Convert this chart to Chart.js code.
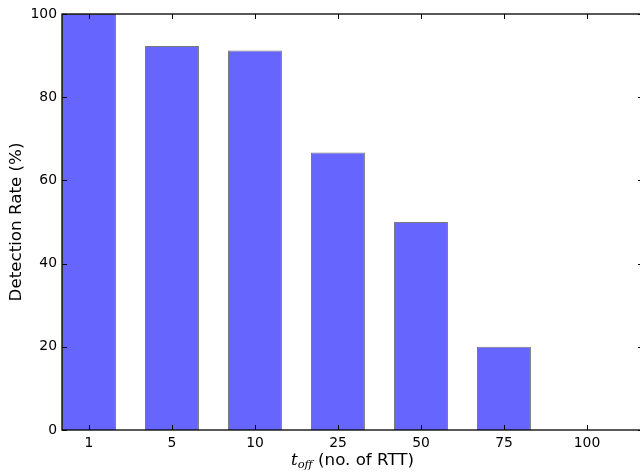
<!DOCTYPE html>
<html lang="en">
<head>
    <meta charset="UTF-8">
    <title>Detection Rate vs t_off</title>
    <script src="https://cdn.jsdelivr.net/npm/chart.js"></script>
    <style>
        * { margin: 0; padding: 0; box-sizing: border-box; }
        html, body { width: 640px; height: 473px; overflow: hidden; background: #ffffff; }
        .chart-box { position: relative; width: 660px; height: 473px; }
    </style>
</head>
<body>
    <div class="chart-box">
        <canvas id="rateChart"></canvas>
    </div>

    <script>
        // data
        const categories = ['1', '5', '10', '25', '50', '75', '100'];
        const detectionRate = [100, 92.3, 91.2, 66.7, 50, 20, 0];
        const yTicks = [0, 20, 40, 60, 80, 100];

        const FONT = "'DejaVu Sans', sans-serif";

        // matplotlib-style frame: four spines, inward ticks
        const framePlugin = {
            id: 'frame',
            afterDraw(chart) {
                const { ctx, chartArea: a, scales } = chart;
                const x = scales.x, y = scales.y;
                ctx.save();
                ctx.strokeStyle = '#000';
                ctx.lineWidth = 1;
                ctx.beginPath();
                categories.forEach((c, i) => {
                    const px = Math.round(x.getPixelForValue(i)) + 0.5;
                    ctx.moveTo(px, a.bottom); ctx.lineTo(px, a.bottom - 5);
                    ctx.moveTo(px, a.top); ctx.lineTo(px, a.top + 5);
                });
                yTicks.forEach(v => {
                    const py = Math.round(y.getPixelForValue(v)) + 0.5;
                    ctx.moveTo(a.left, py); ctx.lineTo(a.left + 5, py);
                    ctx.moveTo(a.right, py); ctx.lineTo(a.right - 5, py);
                });
                ctx.stroke();
                ctx.lineWidth = 1.3;
                ctx.strokeRect(a.left, a.top, a.right - a.left, a.bottom - a.top);

                // x title: t_off (no. of RTT)
                const cx = (a.left + a.right) / 2;
                const base = 465;
                const fMain = "italic 16.7px 'DejaVu Serif', serif";
                const fSub = "italic 11.5px 'DejaVu Serif', serif";
                const fText = '16.7px ' + FONT;
                ctx.fillStyle = '#000';
                ctx.textBaseline = 'alphabetic';
                ctx.textAlign = 'left';
                ctx.font = fMain;
                const wT = ctx.measureText('t').width;
                ctx.font = fSub;
                const wSub = ctx.measureText('off').width;
                ctx.font = fText;
                const rest = ' (no. of RTT)';
                const wRest = ctx.measureText(rest).width;
                let sx = cx - (wT + wSub + wRest) / 2;
                ctx.font = fMain;
                ctx.fillText('t', sx, base);
                sx += wT;
                ctx.font = fSub;
                ctx.fillText('off', sx, base + 3);
                sx += wSub;
                ctx.font = fText;
                ctx.fillText(rest, sx, base);
                ctx.restore();
            }
        };

        const initChart = () => {
            if (typeof Chart === 'undefined') {
                console.error('Chart.js not loaded');
                return;
            }
            const ctx = document.getElementById('rateChart').getContext('2d');
            new Chart(ctx, {
                type: 'bar',
                data: {
                    datasets: [{
                        data: detectionRate.map((v, i) => ({ x: i, y: v })),
                        backgroundColor: '#6666ff',
                        borderColor: '#7a7a7a',
                        borderWidth: 1,
                        barPercentage: 0.65,
                        categoryPercentage: 1
                    }]
                },
                options: {
                    responsive: true,
                    maintainAspectRatio: false,
                    animation: false,
                    layout: { padding: { top: 14, right: 17, left: 0, bottom: 0 } },
                    plugins: {
                        legend: { display: false },
                        tooltip: { enabled: false }
                    },
                    scales: {
                        x: {
                            type: 'linear',
                            offset: false,
                            min: -0.325,
                            max: 6.675,
                            afterBuildTicks: s => { s.ticks = categories.map((c, i) => ({ value: i })); },
                            afterFit: s => { s.height = 43; },
                            grid: { display: false, drawTicks: false },
                            border: { display: false },
                            ticks: {
                                color: '#000',
                                padding: 5,
                                maxRotation: 0,
                                autoSkip: false,
                                font: { family: FONT, size: 13.9 },
                                callback: v => categories[v]
                            }
                        },
                        y: {
                            min: 0,
                            max: 100,
                            afterBuildTicks: s => { s.ticks = yTicks.map(v => ({ value: v })); },
                            afterFit: s => { s.width = 62; },
                            grid: { display: false, drawTicks: false },
                            border: { display: false },
                            title: {
                                display: true,
                                text: 'Detection Rate (%)',
                                color: '#000',
                                padding: { top: 7, bottom: 0 },
                                font: { family: FONT, size: 16.7 }
                            },
                            ticks: {
                                color: '#000',
                                padding: 5,
                                font: { family: FONT, size: 13.9 }
                            }
                        }
                    }
                },
                plugins: [framePlugin]
            });
        };

        document.addEventListener('DOMContentLoaded', initChart);
    </script>
</body>
</html>
